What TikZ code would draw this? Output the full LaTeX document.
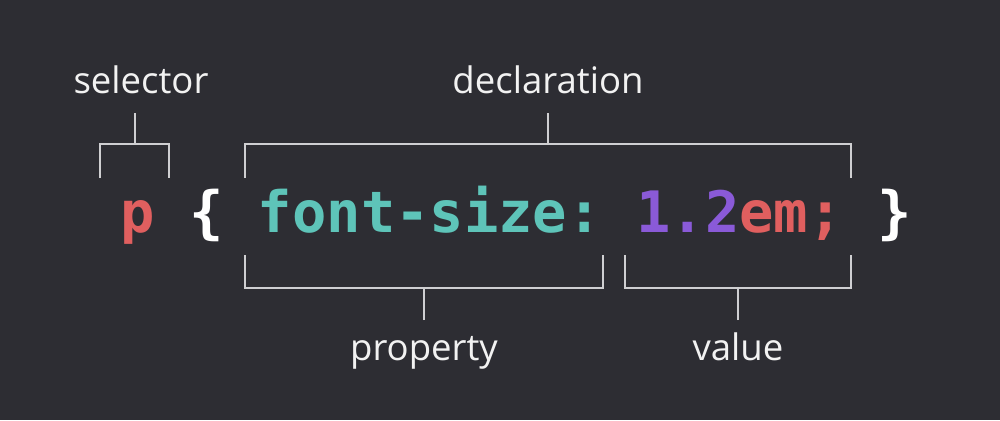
\documentclass[tikz,border=0pt]{standalone}
\usepackage{fontspec}
\setmainfont{Open Sans}
\newfontfamily\codefont{DejaVu Sans Mono}
\usetikzlibrary{positioning}

\definecolor{bgdark}{HTML}{2D2D33}
\definecolor{cssred}{HTML}{E05F5F}
\definecolor{cssteal}{HTML}{5EC4B9}
\definecolor{csspurple}{HTML}{8A5AD8}
\definecolor{bracegray}{HTML}{CFCFD2}
\definecolor{tagwhite}{HTML}{F2F2F2}

\tikzset{
  codepart/.style={font=\codefont\bfseries\fontsize{32.5}{36}\selectfont,
    inner sep=0pt, anchor=base west},
  tagtext/.style={font=\fontsize{20.8}{24}\selectfont, text=tagwhite,
    inner sep=0pt, anchor=base},
  brace/.style={draw=bracegray, line width=1.1pt}
}

\begin{document}
\begin{tikzpicture}[x=0.02cm, y=-0.02cm]
  \fill[bgdark] (0,0) rectangle (1000,420);
  \useasboundingbox (0,0) rectangle (1000,420);

  % the rule, one monospace cell = 34.4
  \node[codepart, text=cssred] (sel) at (120,232) {p};
  \node[codepart, text=white] (lbrace) at (188.8,232) {\{};
  \node[codepart, text=cssteal] (prop) at (257.6,232) {font-size:};
  \node[codepart, text=csspurple] (num) at (636,232) {1.2};
  \node[codepart, text=cssred] (unit) at (739.2,232) {em;};
  \node[codepart, text=white] (rbrace) at (876.8,232) {\}};

  % names of the parts
  \node[tagtext] (selector) at (141,93) {selector};
  \node[tagtext] (declaration) at (548,93) {declaration};
  \node[tagtext] (property) at (424,360) {property};
  \node[tagtext] (value) at (738,360) {value};

  % bracket ends
  \coordinate (selTop) at (135,113);
  \coordinate (declTop) at (548,113);
  \coordinate (propBot) at (424,320);
  \coordinate (valBot) at (738,320);

  % brackets
  \draw[brace] (100,178) |- (169,144) -- (169,178);
  \draw[brace] (selTop) -- (selTop |- 0,144);
  \draw[brace] (245,178) |- (851,144) -- (851,178);
  \draw[brace] (declTop) -- (declTop |- 0,144);
  \draw[brace] (245,255) |- (603,288) -- (603,255);
  \draw[brace] (propBot) -- (propBot |- 0,288);
  \draw[brace] (625,255) |- (851,288) -- (851,255);
  \draw[brace] (valBot) -- (valBot |- 0,288);
\end{tikzpicture}
\end{document}
